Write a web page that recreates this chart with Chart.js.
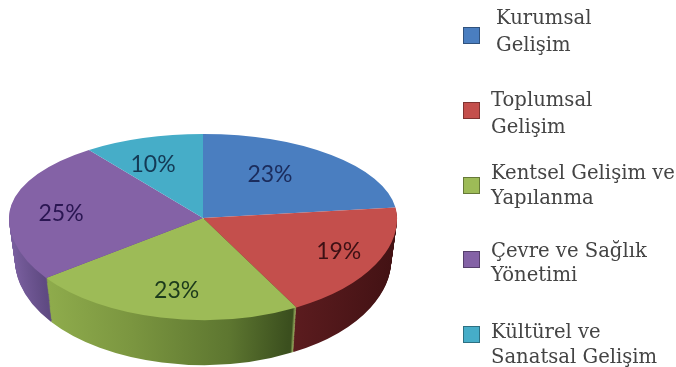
<!DOCTYPE html>
<html lang="tr">
<head>
    <meta charset="UTF-8">
    <title>Gelişim Alanları</title>
    <script src="https://cdn.jsdelivr.net/npm/chart.js"></script>
    <style>
        html, body { margin: 0; padding: 0; background: #fff; overflow: hidden; }
        #wrap { position: relative; width: 676px; height: 367px; }
        #pie { position: absolute; left: 0; top: 0; filter: blur(0.5px); }
        .swatch { position: absolute; width: 15px; height: 15px; border: 1px solid rgba(0,0,0,0.35); filter: blur(0.4px); }
        .line { position: absolute; font-family: "DejaVu Serif", serif; font-size: 19.6px; line-height: 20px; color: #444; white-space: nowrap; }
    </style>
</head>
<body>
    <div id="wrap">
        <canvas id="pie" width="676" height="367"></canvas>
    </div>

    <script>
        const categories = ["Kurumsal Gelişim", "Toplumsal Gelişim", "Kentsel Gelişim ve Yapılanma", "Çevre ve Sağlık Yönetimi", "Kültürel ve Sanatsal Gelişim"];
        const legendLines = [["Kurumsal", "Gelişim"], ["Toplumsal", "Gelişim"], ["Kentsel Gelişim ve", "Yapılanma"], ["Çevre ve Sağlık", "Yönetimi"], ["Kültürel ve", "Sanatsal Gelişim"]];
        const values = [23, 19, 23, 25, 10];
        const colors = ["#4a7ec0", "#c44f4c", "#9dbb57", "#8462a6", "#46adc8"];
        const labelColors = ["#1b2c5c", "#3d1014", "#1c3a1c", "#2a1652", "#143a55"];

        // Pie geometry on the page (perspective: front half is taller than the back half)
        const pieX = 203, pieY = 218, pieRx = 194, backRy = 84, frontRy = 102;
        const depth = 42, bottomRx = 188, bottomFrontRy = 105;

        // Side wall colours, left to right across each slice [x on page, colour]
        const sideStops = {
            1: [[292, "#5c1c1f"], [395, "#431214"]],
            2: [[44, "#8fac4c"], [130, "#7b9640"], [230, "#5d7630"], [290, "#3b4f1e"], [293, "#3b4f1e"], [296, "#a6bd6a"]],
            3: [[8, "#7b60a0"], [44, "#5f4a82"]]
        };

        // Small shifts of the percent labels from the default spot in the slice
        const labelShift = [[-10, -6], [32, 6], [-1, 13], [-27, 3], [-14, -5]];

        // Draws the arcs squeezed to an ellipse, back and front halves separately
        function drawSqueezed(chart, arcs, apexY, rx, ryFront, optionsFor) {
            const ctx = chart.ctx;
            const first = arcs[0];
            const halves = [[0, apexY, backRy], [apexY, chart.height - apexY, ryFront]];
            halves.forEach(function(h) {
                ctx.save();
                ctx.beginPath();
                ctx.rect(0, h[0], chart.width, h[1]);
                ctx.clip();
                ctx.translate(pieX, apexY);
                ctx.scale(rx / first.outerRadius, h[2] / first.outerRadius);
                ctx.translate(-first.x, -first.y);
                arcs.forEach(function(arc, i) {
                    const saved = arc.options;
                    if (optionsFor) {
                        const o = optionsFor(i, saved);
                        if (!o) return;
                        arc.options = o;
                    }
                    arc.draw(ctx);
                    arc.options = saved;
                });
                ctx.restore();
            });
        }

        const pie3d = {
            id: 'pie3d',
            beforeDatasetsDraw(chart) {
                const ctx = chart.ctx;
                const arcs = chart.getDatasetMeta(0).data;
                const cx = arcs[0].x, sx = pieRx / arcs[0].outerRadius;

                // gradients live in chart space, because they are used under the transform
                const grads = {};
                Object.keys(sideStops).forEach(function(k) {
                    const stops = sideStops[k];
                    const x0 = stops[0][0], x1 = stops[stops.length - 1][0];
                    const g = ctx.createLinearGradient(cx + (x0 - pieX) / sx, 0, cx + (x1 - pieX) / sx, 0);
                    stops.forEach(function(s) { g.addColorStop((s[0] - x0) / (x1 - x0), s[1]); });
                    grads[k] = g;
                });
                const sideOptions = function(i, opts) {
                    if (!grads[i]) return null;
                    return Object.assign({}, opts, { backgroundColor: grads[i], borderWidth: 0 });
                };

                // side wall: stack of layers from the bottom up
                for (let t = depth; t >= 1; t--) {
                    const f = t / depth;
                    drawSqueezed(chart, arcs, pieY + t, pieRx + (bottomRx - pieRx) * f, frontRy + (bottomFrontRy - frontRy) * f, sideOptions);
                }
                // top face
                drawSqueezed(chart, arcs, pieY, pieRx, frontRy, null);

                // percent labels
                ctx.save();
                ctx.font = '23px Lato, "Open Sans", sans-serif';
                ctx.textAlign = 'center';
                ctx.textBaseline = 'middle';
                arcs.forEach(function(arc, i) {
                    const mid = (arc.startAngle + arc.endAngle) / 2;
                    const dy = Math.sin(mid);
                    const x = pieX + Math.cos(mid) * 0.6 * pieRx + labelShift[i][0];
                    const y = pieY + dy * 0.6 * (dy < 0 ? backRy : frontRy) + labelShift[i][1];
                    ctx.fillStyle = labelColors[i];
                    ctx.fillText(values[i] + '%', x, y);
                });
                ctx.restore();
                return false;
            }
        };

        new Chart(document.getElementById('pie').getContext('2d'), {
            type: 'pie',
            data: {
                labels: categories,
                datasets: [{
                    data: values,
                    backgroundColor: colors,
                    borderWidth: 0
                }]
            },
            options: {
                responsive: false,
                animation: false,
                plugins: { legend: { display: false }, tooltip: { enabled: false } }
            },
            plugins: [pie3d]
        });

        // Legend on the right
        const wrap = document.getElementById('wrap');
        const swatchTop = [27, 102, 177, 251, 326];
        const textX = [496, 491, 491, 491, 491];
        const baselines = [[24, 51], [106, 133], [179, 204], [257, 281], [338, 363]];
        legendLines.forEach(function(lines, i) {
            const s = document.createElement('div');
            s.className = 'swatch';
            s.style.left = '463px';
            s.style.top = swatchTop[i] + 'px';
            s.style.background = colors[i];
            wrap.appendChild(s);
            lines.forEach(function(text, j) {
                const d = document.createElement('div');
                d.className = 'line';
                d.textContent = text;
                d.style.left = textX[i] + 'px';
                d.style.top = (baselines[i][j] - 16) + 'px';
                wrap.appendChild(d);
            });
        });
    </script>
</body>
</html>
